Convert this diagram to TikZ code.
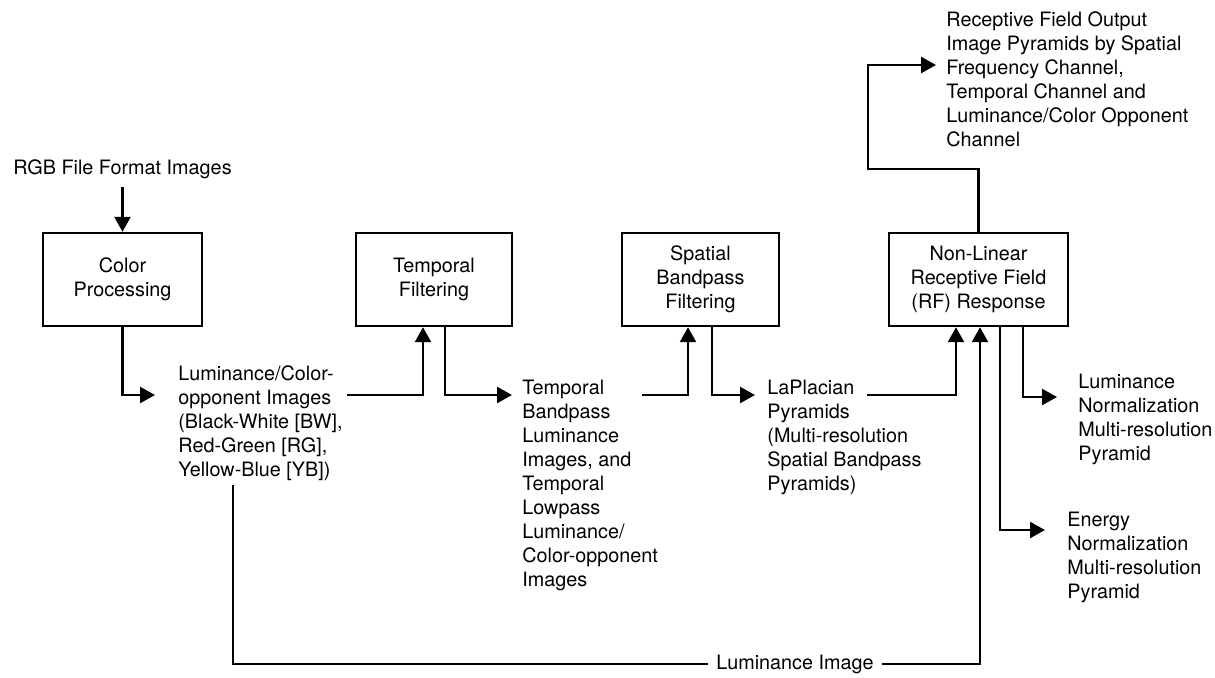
\documentclass[tikz,border=0pt]{standalone}
\usepackage{fontspec}
\setmainfont{TeX Gyre Heros}
\usetikzlibrary{arrows.meta,calc}

\begin{document}
\begin{tikzpicture}[x=0.5pt,y=-0.5pt,
  every node/.style={font=\fontsize{9.9pt}{12pt}\selectfont},
  stagebox/.style={draw,line width=1.2pt,minimum height=46.5pt,align=center,inner sep=0pt},
  txt/.style={anchor=north west,align=left,inner sep=0pt},
  wire/.style={line width=1.2pt},
  arr/.style={wire,-{Triangle[length=7.5pt,width=8pt]}}
]
\useasboundingbox (0,0) rectangle (1215,677);

% processing stages
\node[stagebox,minimum width=79.5pt] (color)    at (122.5,279.5){Color\\Processing};
\node[stagebox,minimum width=78pt]   (temporal) at (434,279.5)  {Temporal\\Filtering};
\node[stagebox,minimum width=78.5pt] (spatial)  at (700.5,279.5){Spatial\\Bandpass\\Filtering};
\node[stagebox,minimum width=89.5pt] (nonlin)   at (978.5,279.5){Non-Linear\\Receptive Field\\(RF) Response};

% data descriptions
\node[anchor=base west,inner sep=0pt] (rgb) at (13,174) {RGB File Format Images};
\node[txt] (lum) at (178,365) {Luminance/Color-\\opponent Images\\(Black-White [BW],\\Red-Green [RG],\\Yellow-Blue [YB])};
\node[txt] (temptext) at (522,380) {Temporal\\Bandpass\\Luminance\\Images, and\\Temporal\\Lowpass\\Luminance/\\Color-opponent\\Images};
\node[txt] (lap) at (767,380) {LaPlacian\\Pyramids\\(Multi-resolution\\Spatial Bandpass\\Pyramids)};
\node[txt] (out) at (946,11) {Receptive Field Output\\Image Pyramids by Spatial\\Frequency Channel,\\Temporal Channel and\\Luminance/Color Opponent\\Channel};
\node[txt] (lumnorm) at (1078,374) {Luminance\\Normalization\\Multi-resolution\\Pyramid};
\node[txt] (energy) at (1067,512) {Energy\\Normalization\\Multi-resolution\\Pyramid};
\node[fill=white,inner xsep=3.75pt,inner ysep=1pt] (lumimg) at (795,664) {Luminance Image};

% connector end points
\coordinate (a0) at (122.5,187);
\coordinate (b1) at (155,395);
\coordinate (c0) at (347,395);
\coordinate (d1) at (512,395);
\coordinate (e0) at (642,395);
\coordinate (f1) at (755,395);
\coordinate (g0) at (867,395);
\coordinate (h0) at (233,485);
\coordinate (i1) at (868,169);
\coordinate (i2) at (936,65);
\coordinate (j1) at (1057,397);
\coordinate (k1) at (1045,530);

% flow
\draw[arr] (a0) -- (color.north);
\draw[arr] (color.south) |- (b1);
\draw[arr] (c0) -| ([xshift=-5.5pt]temporal.south);
\draw[arr] ([xshift=5.5pt]temporal.south) |- (d1);
\draw[arr] (e0) -| ([xshift=-6.25pt]spatial.south);
\draw[arr] ([xshift=5.75pt]spatial.south) |- (f1);
\draw[arr] (g0) -| ([xshift=-11.25pt]nonlin.south);
\draw[wire] (h0) |- (lumimg.west);
\draw[arr] (lumimg.east) -| ([xshift=0.75pt]nonlin.south);
\draw[arr] (nonlin.north) |- (i1) |- (i2);
\draw[arr] ([xshift=22.25pt]nonlin.south) |- (j1);
\draw[arr] ([xshift=10.75pt]nonlin.south) |- (k1);
\end{tikzpicture}
\end{document}
